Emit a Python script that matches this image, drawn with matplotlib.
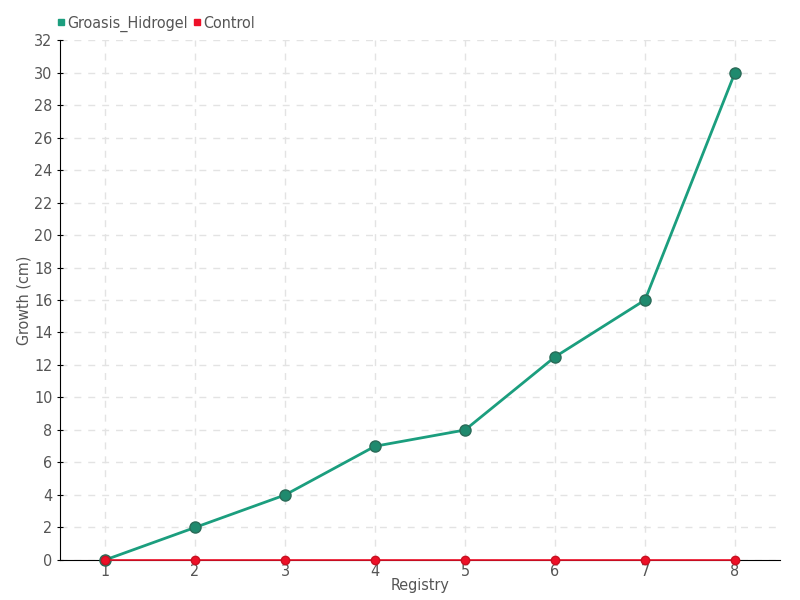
import matplotlib.pyplot as plt
from matplotlib.lines import Line2D

registry = [1, 2, 3, 4, 5, 6, 7, 8]
groasis = [0, 2, 4, 7, 8, 12.5, 16, 30]
control = [0, 0, 0, 0, 0, 0, 0, 0]
yticks = list(range(0, 33, 2))

plt.rcParams['font.family'] = ['DejaVu Sans']
plt.rcParams['font.stretch'] = 'condensed'

fig = plt.figure(figsize=(8, 6), dpi=100)
ax = fig.add_axes([0.075, 0.0667, 0.9, 0.8666])

ax.plot(registry, groasis, color='#1b9e7e', linewidth=2, marker='o',
        markersize=8, markerfacecolor='#1f8a6e', markeredgecolor='#2a6b58',
        zorder=3, clip_on=False, label='Groasis_Hidrogel')
ax.plot(registry, control, color='#ee1028', linewidth=1.2, marker='o',
        markersize=6, markerfacecolor='#ee1028', markeredgecolor='#c81022',
        zorder=5, clip_on=False, label='Control')

ax.set_xlim(0.5, 8.5)
ax.set_ylim(0, 32)
ax.set_yticks(yticks)
ax.set_xticks(registry)
ax.grid(True, color='#e3e3e3', linestyle=(0, (5, 5)), linewidth=1)
ax.set_axisbelow(True)
for s in ['top', 'right']:
    ax.spines[s].set_visible(False)
for s in ['left', 'bottom']:
    ax.spines[s].set_color('black')
ax.tick_params(axis='both', labelcolor='#555555', color='black', labelsize=11.5)
ax.tick_params(axis='y', direction='inout', length=5, pad=3)
ax.tick_params(axis='x', direction='inout', length=6, pad=0)
ax.set_xlabel('Registry', color='#555555', fontsize=11.5, labelpad=-1)
ax.set_ylabel('Growth (cm)', color='#555555', fontsize=11.5, labelpad=2)

handles = [Line2D([], [], marker='s', linestyle='none', color='#1b9e7e', markersize=4),
           Line2D([], [], marker='s', linestyle='none', color='#ee1028', markersize=4)]
fig.legend(handles, ['Groasis_Hidrogel', 'Control'], loc='upper left',
           bbox_to_anchor=(0.053, 0.998), ncol=2, frameon=False, fontsize=11.5,
           handlelength=0.5, handletextpad=0.15, columnspacing=0.3,
           labelcolor='#555555')

fig.savefig('out.png', dpi=100)
